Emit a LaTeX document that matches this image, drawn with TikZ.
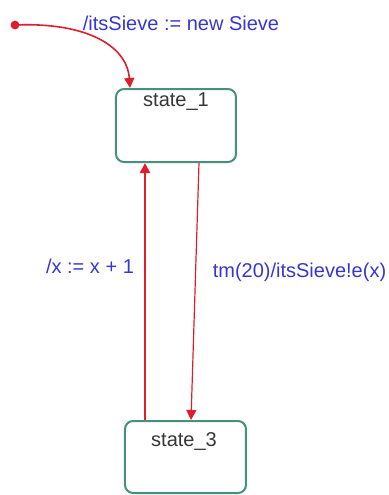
\documentclass[tikz,border=0pt]{standalone}
\usepackage{fontspec}
\setmainfont{Liberation Sans}
\usetikzlibrary{arrows.meta}
\definecolor{lblue}{RGB}{55,55,205}
\definecolor{ared}{RGB}{222,30,45}
\definecolor{bgreen}{RGB}{70,145,125}
\definecolor{tgray}{RGB}{55,55,55}
\begin{document}
\begin{tikzpicture}[x=0.5pt,y=-0.5pt,
  statebox/.style={draw=bgreen,line width=1pt,rounded corners=4pt,fill=white,inner sep=0pt},
  stname/.style={text=tgray,font=\fontsize{10}{12}\selectfont,inner sep=0pt},
  trlabel/.style={text=lblue,font=\fontsize{10}{12}\selectfont,inner sep=0pt},
  trans/.style={draw=ared,-{Triangle[length=5pt,width=5pt]}}]
\useasboundingbox (0,0) rectangle (389,495);
\node[statebox,minimum width=60pt,minimum height=36.5pt] (s1) at (176,125.5) {};
\node[statebox,minimum width=60.5pt,minimum height=36pt] (s3) at (185.5,457) {};
\node[stname] (s1t) at (176,102) {state\_1};
\node[stname] (s3t) at (184,441) {state\_3};
\fill[ared] (15,25) circle (2.2pt) coordinate (init);
\coordinate (xa) at (130,0);
\coordinate (xb) at (145,0);
\coordinate (xc) at (199,0);
\coordinate (xd) at (191,0);
\draw[trans,line width=0.8pt] (init) .. controls (85,22) and (127,45) .. (s1.north -| xa);
\draw[trans,line width=1pt] (s3.north -| xb) -- (s1.south -| xb);
\draw[trans,line width=0.6pt] (s1.south -| xc) -- (s3.north -| xd);
\node[trlabel] (l0) at (181,23) {/itsSieve := new Sieve};
\node[trlabel] (l1) at (90,266) {/x := x + 1};
\node[trlabel] (l2) at (299.5,272) {tm(20)/itsSieve!e(x)};
\end{tikzpicture}
\end{document}
